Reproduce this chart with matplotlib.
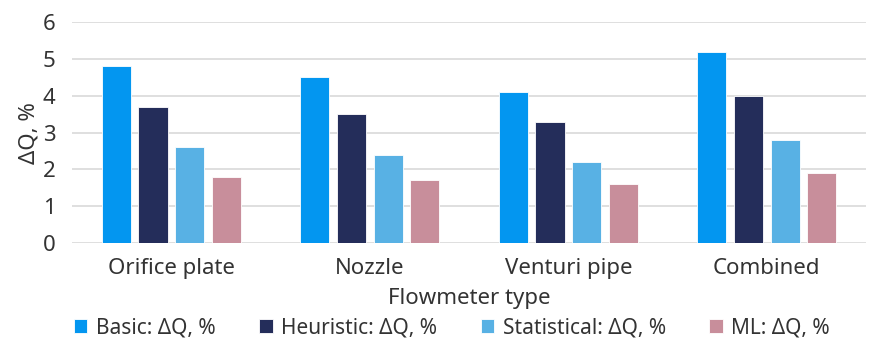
import matplotlib.pyplot as plt
import numpy as np

categories = ['Orifice plate', 'Nozzle', 'Venturi pipe', 'Combined']
series_names = ['Basic: ΔQ, %', 'Heuristic: ΔQ, %', 'Statistical: ΔQ, %', 'ML: ΔQ, %']
basic = [4.8, 4.5, 4.1, 5.2]
heuristic = [3.7, 3.5, 3.3, 4.0]
statistical = [2.6, 2.4, 2.2, 2.8]
ml = [1.8, 1.7, 1.6, 1.9]
colors = ['#0396F0', '#242D5A', '#58B1E4', '#C88E9B']


def main():
    plt.rcParams['font.family'] = ['Noto Sans', 'DejaVu Sans']
    fig = plt.figure(figsize=(8.69, 3.40), dpi=100)
    ax = fig.add_axes([0.083, 0.285, 0.9135, 0.65])

    x = np.arange(len(categories))
    step = 0.185
    width = 0.147
    for i, (vals, name) in enumerate(zip([basic, heuristic, statistical, ml], series_names)):
        ax.bar(x + (i - 1.5) * step, vals, width, color=colors[i], label=name,
               edgecolor='white', linewidth=0.6, zorder=3)

    ax.set_xlim(-0.5, len(categories) - 0.5)
    ax.set_ylim(0, 6)
    ax.set_yticks(range(7))
    ax.grid(axis='y', color='#D9D9D9', linewidth=1.2, zorder=0)
    for s in ax.spines.values():
        s.set_visible(False)
    ax.tick_params(length=0, labelsize=16, colors='#333333')
    ax.tick_params(axis='y', pad=12)
    ax.tick_params(axis='x', pad=11)
    ax.set_xticks(x)
    ax.set_xticklabels(categories)
    ax.set_ylabel('ΔQ, %', fontsize=16, color='#333333', labelpad=2)
    ax.set_xlabel('Flowmeter type', fontsize=16, color='#333333', labelpad=6)

    fig.legend(loc='center', bbox_to_anchor=(0.52, 0.035), ncol=4, frameon=False,
               fontsize=15, handlelength=0.65, handleheight=0.65, handletextpad=0.4,
               columnspacing=2.1, labelcolor='#333333')

    plt.savefig('out.png', dpi=100)


if __name__ == '__main__':
    main()
